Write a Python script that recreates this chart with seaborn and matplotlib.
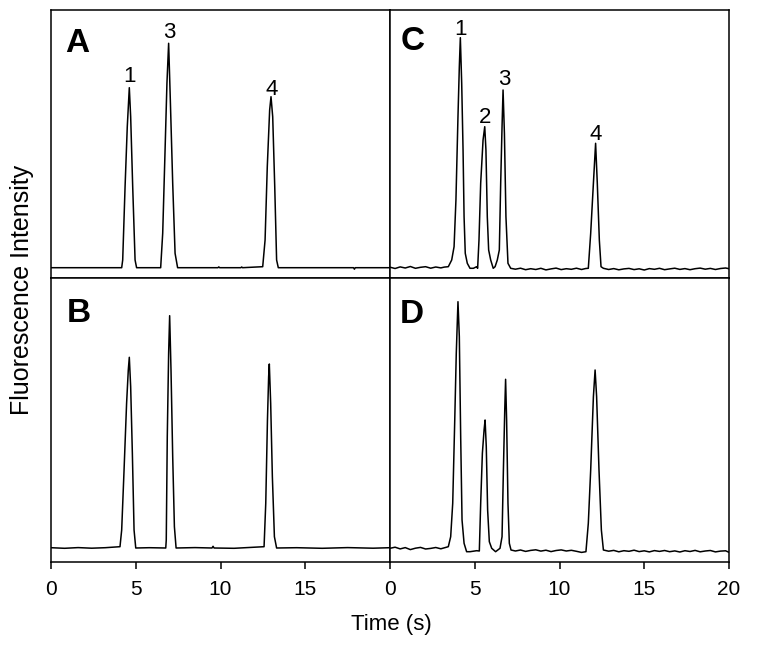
import matplotlib
matplotlib.use("Agg")
import matplotlib.pyplot as plt
import seaborn as sns
import pandas as pd

# ---------------- data ----------------
# Panel A
a_time = [0.0, 2.0, 4.17, 4.23, 4.37, 4.50, 4.62, 4.70, 4.82, 4.96, 5.05,
          6.47, 6.59, 6.73, 6.84, 6.94, 7.04, 7.18, 7.32, 7.47,
          9.85, 9.9, 9.95, 11.2, 11.25, 11.3,
          12.49, 12.63, 12.76, 12.90, 12.98, 13.08, 13.20, 13.31, 13.41,
          17.85, 17.9, 17.95, 20.0]
a_int = [0, 0, 0, 7.7, 81, 141, 180, 151, 81, 7.7, 0,
         0, 34.4, 117.7, 184.4, 224.4, 167.7, 84.4, 14.4, 0,
         0, 0.8, 0, 0, 0.7, 0,
         1, 27.7, 101, 157.7, 171, 151, 81, 7.7, 0,
         0, -1.5, 0, 0]

# Panel B
b_time = [0.0, 0.8, 1.6, 2.4, 3.2, 4.07, 4.17, 4.31, 4.46, 4.56, 4.62, 4.70, 4.80, 4.90, 5.00,
          5.8, 6.77, 6.80, 6.86, 6.94, 7.00, 7.08, 7.18, 7.28, 7.38,
          8.5, 9.5, 9.56, 9.62, 10.8, 12.57, 12.67, 12.77, 12.84, 12.88, 12.96, 13.06, 13.18, 13.31,
          14.5, 16.0, 17.5, 19.0, 20.0]
b_int = [0.3, -0.3, 0.4, -0.2, 0.3, 1.3, 18, 78, 144.7, 178, 190.7, 161.3, 94.7, 18, 0,
         0.3, 0, 8, 111.3, 194.7, 232.3, 178, 91.3, 21.3, 0,
         0.4, 0, 1.7, 0, -0.3, 1.3, 44.7, 128, 171.3, 184, 144.7, 71.3, 11.3, 0,
         0.3, -0.3, 0.4, -0.2, 0.3]

# Panel C
c_time = [0.0, 0.3, 0.6, 0.9, 1.2, 1.5, 1.8, 2.1, 2.4, 2.7, 3.0, 3.2,
          3.44, 3.64, 3.78, 3.89, 4.01, 4.09, 4.15, 4.23, 4.31, 4.37, 4.44, 4.56, 4.72, 4.92, 5.11,
          5.17, 5.25, 5.35, 5.49, 5.59, 5.66, 5.74, 5.82, 5.94, 6.09,
          6.20, 6.33, 6.45, 6.53, 6.61, 6.67, 6.75, 6.84, 6.96, 7.12,
          7.4, 7.7, 8.0, 8.3, 8.6, 8.9, 9.2, 9.5, 9.8, 10.1, 10.4, 10.7, 11.0, 11.3, 11.55,
          11.70, 11.84, 12.00, 12.13, 12.23, 12.35, 12.45, 12.59,
          12.9, 13.2, 13.5, 13.8, 14.1, 14.4, 14.7, 15.0, 15.3, 15.6, 15.9, 16.2, 16.5,
          16.8, 17.1, 17.4, 17.7, 18.0, 18.3, 18.6, 18.9, 19.2, 19.5, 19.8, 20.0]
c_int = [0.5, -0.8, 0.8, -0.3, 1.2, -0.6, 0.4, 1.0, -0.5, 0.7, -0.2, 0.6,
         1, 7.7, 21, 67.7, 151, 201, 230, 184.4, 117.7, 51, 14.4, 4.4, -0.6, -0.6, 1,
         -0.6, 27.7, 84.4, 127.7, 141, 117.7, 51, 17.7, 7.7, -0.6,
         1, 7.7, 17.7, 84.4, 141, 177.7, 134.4, 51, 4.4, -0.6,
         -1.5, -0.5, -2.0, -1.0, -1.8, -0.6, -2.2, -1.2, -0.4, -1.9, -1.0, -1.6, -0.5, -1.8, -0.8,
         -0.6, 34.4, 84.4, 124.4, 84.4, 27.7, 1, -0.6,
         -1.8, -0.9, -2.1, -1.2, -0.7, -1.9, -1.1, -2.3, -0.9, -1.6, -0.6, -2.0, -1.2,
         -0.5, -1.7, -0.9, -2.0, -1.0, -0.4, -1.5, -0.7, -1.8, -0.8, -0.3, -1.0]

# Panel D
d_time = [0.0, 0.3, 0.6, 0.9, 1.2, 1.5, 1.8, 2.1, 2.4, 2.7, 3.0, 3.25,
          3.44, 3.58, 3.70, 3.82, 3.91, 4.01, 4.09, 4.17, 4.25, 4.37, 4.52, 4.72, 5.11,
          5.27, 5.35, 5.45, 5.55, 5.61, 5.68, 5.76, 5.86, 6.00, 6.23,
          6.49, 6.61, 6.69, 6.77, 6.82, 6.88, 6.96, 7.04, 7.14,
          7.4, 7.7, 8.0, 8.3, 8.6, 8.9, 9.2, 9.5, 9.8, 10.1, 10.4, 10.7, 11.0, 11.3, 11.56,
          11.70, 11.84, 12.00, 12.10, 12.19, 12.33, 12.47, 12.59,
          12.9, 13.2, 13.5, 13.8, 14.1, 14.4, 14.7, 15.0, 15.3, 15.6, 15.9, 16.2, 16.5,
          16.8, 17.1, 17.4, 17.7, 18.0, 18.3, 18.6, 18.9, 19.2, 19.5, 19.8, 20.0]
d_int = [-0.3, 0.8, -0.9, 0.4, -1.6, -0.2, 0.6, -1.0, -0.4, 0.5, -0.8, 0.4,
         1.3, 11.3, 44.7, 128, 194.7, 246.3, 211.3, 111.3, 28, 4.7, -3.7, -3.7, -2.7,
         -3, 44.7, 94.7, 118, 128, 101.3, 38, 6.3, -0.3, -3.7,
         -0.3, 11.3, 78, 138, 168.7, 128, 44.7, 4.7, -2,
         -3.0, -2.0, -3.4, -2.4, -1.8, -3.1, -2.2, -3.6, -2.5, -1.9, -3.0, -2.3, -3.3, -4.4, -3.7,
         24.7, 78, 151.3, 178, 151.3, 78, 18, -2,
         -3.2, -2.4, -3.8, -2.7, -3.3, -2.2, -3.6, -2.8, -3.9, -2.6, -3.4, -2.5, -3.7,
         -2.9, -4.0, -2.7, -3.5, -2.4, -3.8, -3.0, -2.5, -3.9, -3.1, -2.8, -4.3]

panel_letters = ["A", "B", "C", "D"]

# peak labels: (text, time, label baseline)
a_peak_text = ["1", "3", "4"]
a_peak_time = [4.62, 7.0, 13.0]
a_peak_pos = [185.7, 229.4, 172.7]
c_peak_text = ["1", "2", "3", "4"]
c_peak_time = [4.17, 5.59, 6.72, 12.15]
c_peak_pos = [232.7, 144.4, 182.7, 127.7]

x_ticks_left = [0, 5, 10, 15]
x_ticks_right = [0, 5, 10, 15, 20]

# ---------------- style ----------------
sns.set_style("ticks")
plt.rcParams["font.family"] = ["Liberation Sans", "DejaVu Sans"]
plt.rcParams["text.color"] = "black"
plt.rcParams["xtick.color"] = "black"
plt.rcParams["axes.labelcolor"] = "black"

W, H = 758, 651
fig = plt.figure(figsize=(W / 100, H / 100), dpi=100)

xl, xm, xr = 51, 390, 729
yt, ym, yb = 10, 278, 562


def add_ax(x0, x1, y0, y1):
    return fig.add_axes([x0 / W, (H - y1) / H, (x1 - x0) / W, (y1 - y0) / H])


ax_a = add_ax(xl, xm, yt, ym)
ax_c = add_ax(xm, xr, yt, ym)
ax_b = add_ax(xl, xm, ym, yb)
ax_d = add_ax(xm, xr, ym, yb)

panels = [
    (ax_a, a_time, a_int, (-10.3, 257.7), "A", 0.843),
    (ax_b, b_time, b_int, (-14.0, 270.0), "B", 0.846),
    (ax_c, c_time, c_int, (-10.3, 257.7), "C", 0.851),
    (ax_d, d_time, d_int, (-14.0, 270.0), "D", 0.842),
]

letter_x = {"A": 0.041, "B": 0.046, "C": 0.03, "D": 0.03}

for ax, t, y, ylim, letter, ly in panels:
    df = pd.DataFrame({"Time": t, "Intensity": y})
    sns.lineplot(data=df, x="Time", y="Intensity", ax=ax, color="black",
                 linewidth=1.1, sort=False, estimator=None)
    ax.set_xlim(0, 20)
    ax.set_ylim(*ylim)
    ax.set_yticks([])
    ax.set_xlabel("")
    ax.set_ylabel("")
    for s in ax.spines.values():
        s.set_visible(True)
        s.set_linewidth(1.1)
        s.set_color("black")
    ax.text(letter_x[letter], ly, letter, transform=ax.transAxes, color="black",
            fontsize=24, fontweight="bold", ha="left", va="baseline")

for ax in (ax_a, ax_c):
    ax.set_xticks([])

ax_b.set_xticks(x_ticks_left)
ax_d.set_xticks(x_ticks_right)
for ax in (ax_b, ax_d):
    ax.tick_params(axis="x", direction="out", length=5, width=1.1,
                   labelsize=15, pad=8, color="black", labelcolor="black")

for s, tx, py in zip(a_peak_text, a_peak_time, a_peak_pos):
    ax_a.text(tx, py, s, fontsize=16, ha="center", va="baseline", color="black")
for s, tx, py in zip(c_peak_text, c_peak_time, c_peak_pos):
    ax_c.text(tx, py, s, fontsize=16, ha="center", va="baseline", color="black")

fig.text(391 / W, (H - 630) / H, "Time (s)", fontsize=16, ha="center",
         va="baseline", color="black")
fig.text(22 / W, (H - 290) / H, "Fluorescence Intensity", fontsize=18,
         rotation=90, ha="center", va="center", color="black")

fig.savefig("out.png", dpi=100)
